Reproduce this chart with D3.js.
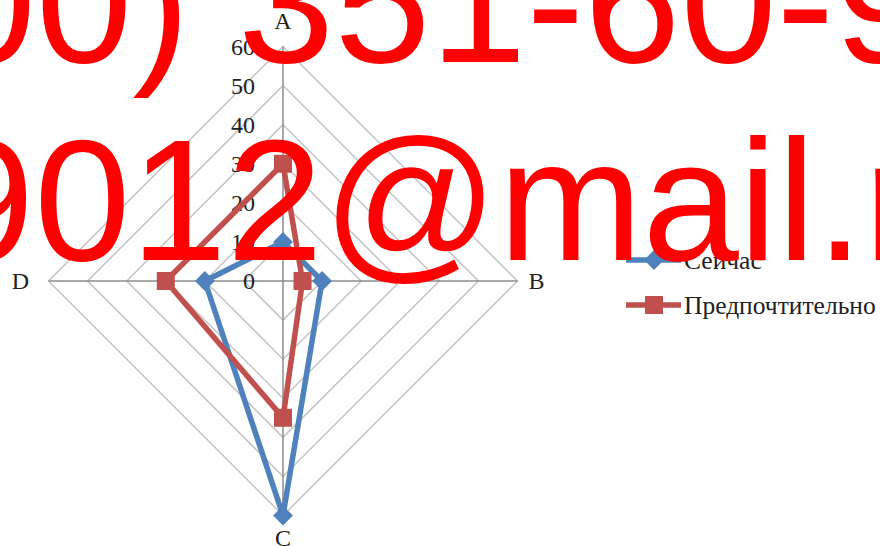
<!DOCTYPE html>
<html>
<head>
<meta charset="utf-8">
<script src="https://cdn.jsdelivr.net/npm/d3@7"></script>
<style>
  html, body { margin: 0; padding: 0; background: #fff; }
  svg { display: block; }
</style>
</head>
<body>
<svg id="chart" width="880" height="546"></svg>
<script>
// donnees du radar
var axes = ["A", "B", "C", "D"];
var seriesNames = ["Сейчас", "Предпочтительно"];
var nowValues = [10, 10, 60, 20];
var prefValues = [30, 5, 35, 30];
var tickValues = [0, 10, 20, 30, 40, 50, 60];
var watermark = ["(900) 351-60-9", "9012@mail.ru"];

var colors = ["#4f81bd", "#c0504d"];
var series = [nowValues, prefValues];

var W = 880, H = 546;
var cx = 283, cy = 281, R = 234.5;

var svg = d3.select("#chart");
svg.append("rect").attr("width", W).attr("height", H).attr("fill", "#fff");

var r = d3.scaleLinear().domain([0, 60]).range([0, R]);
var angle = d3.scalePoint().domain(axes).range([0, 2 * Math.PI * 3 / 4]);

var g = svg.append("g").attr("transform", "translate(" + cx + "," + cy + ")");

function pt(a, v) {
    var t = angle(a) - Math.PI / 2;
    return [r(v) * Math.cos(t), r(v) * Math.sin(t)];
}

// grille (losanges)
g.selectAll("polygon.ring")
    .data(tickValues.slice(1))
    .enter().append("polygon")
    .attr("class", "ring")
    .attr("points", function(t) { return axes.map(function(a) { return pt(a, t).join(","); }).join(" "); })
    .attr("fill", "none")
    .attr("stroke", "#c4c4c4")
    .attr("stroke-width", 1.5);

// rayons
g.selectAll("line.spoke")
    .data(axes)
    .enter().append("line")
    .attr("class", "spoke")
    .attr("x1", 0).attr("y1", 0)
    .attr("x2", function(a) { return pt(a, 60)[0]; })
    .attr("y2", function(a) { return pt(a, 60)[1]; })
    .attr("stroke", "#8c8c8c")
    .attr("stroke-width", 1.5);

// graduations
g.selectAll("text.tick")
    .data(tickValues)
    .enter().append("text")
    .attr("class", "tick")
    .attr("x", -28)
    .attr("y", function(t) { return -r(t); })
    .attr("text-anchor", "end")
    .attr("dominant-baseline", "central")
    .attr("font-family", "Liberation Serif, Times New Roman, serif")
    .attr("font-size", 24)
    .attr("fill", "#222")
    .text(function(t) { return t; });

// etiquettes des axes (decalage propre a chaque axe)
var labelPad = [26, 19, 22, 28];
g.selectAll("text.axis")
    .data(axes)
    .enter().append("text")
    .attr("class", "axis")
    .attr("x", function(a, i) { var t = angle(a) - Math.PI / 2; return (R + labelPad[i]) * Math.cos(t); })
    .attr("y", function(a, i) { var t = angle(a) - Math.PI / 2; return (R + labelPad[i]) * Math.sin(t); })
    .attr("text-anchor", "middle")
    .attr("dominant-baseline", "central")
    .attr("font-family", "Liberation Serif, Times New Roman, serif")
    .attr("font-size", 24)
    .attr("fill", "#222")
    .text(function(a) { return a; });

// series
var radial = d3.lineRadial()
    .angle(function(d, i) { return angle(axes[i]); })
    .radius(function(d) { return r(d); })
    .curve(d3.curveLinearClosed);

var markerSize = [196, 324];
var markerRot = [45, 0];

series.forEach(function(vals, si) {
    g.append("path")
        .attr("d", radial(vals))
        .attr("fill", "none")
        .attr("stroke", colors[si])
        .attr("stroke-width", 5.5)
        .attr("stroke-linejoin", "round");
    g.selectAll("path.m" + si)
        .data(vals)
        .enter().append("path")
        .attr("class", "m" + si)
        .attr("d", d3.symbol(d3.symbolSquare, markerSize[si]))
        .attr("transform", function(d, i) {
            var p = pt(axes[i], d);
            return "translate(" + p[0] + "," + p[1] + ") rotate(" + markerRot[si] + ")";
        })
        .attr("fill", colors[si]);
});

// legende
var legendY = [260, 305];
var leg = svg.append("g");
seriesNames.forEach(function(name, si) {
    leg.append("line")
        .attr("x1", 626).attr("x2", 681)
        .attr("y1", legendY[si]).attr("y2", legendY[si])
        .attr("stroke", colors[si]).attr("stroke-width", 5.5);
    leg.append("path")
        .attr("d", d3.symbol(d3.symbolSquare, markerSize[si]))
        .attr("transform", "translate(654," + legendY[si] + ") rotate(" + markerRot[si] + ")")
        .attr("fill", colors[si]);
    leg.append("text")
        .attr("x", 684).attr("y", legendY[si])
        .attr("dominant-baseline", "central")
        .attr("font-family", "Liberation Serif, Times New Roman, serif")
        .attr("font-size", 25.5)
        .attr("fill", "#222")
        .text(name);
});

// filigrane rouge
var wmX = [-214, -62], wmY = [62, 260];
svg.selectAll("text.wm")
    .data(watermark)
    .enter().append("text")
    .attr("class", "wm")
    .attr("x", function(d, i) { return wmX[i]; })
    .attr("y", function(d, i) { return wmY[i]; })
    .attr("font-family", "Liberation Sans, Arial, sans-serif")
    .attr("font-size", 173)
    .attr("fill", "#ff0000")
    .text(function(d) { return d; });
</script>
</body>
</html>
